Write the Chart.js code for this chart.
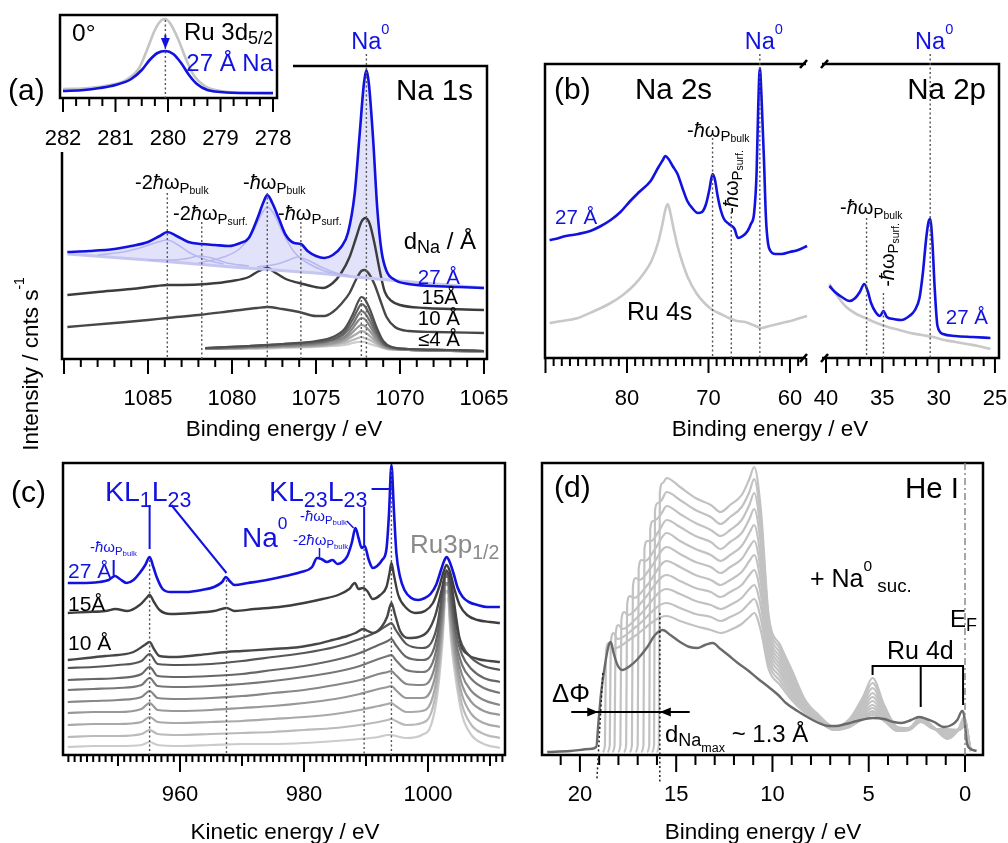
<!DOCTYPE html>
<html>
<head>
<meta charset="utf-8">
<script src="https://cdn.jsdelivr.net/npm/chart.js@4.4.0/dist/chart.umd.min.js"></script>
<style>
  body { margin: 0; background: #fff; }
  #fig { position: relative; width: 1008px; height: 843px; overflow: hidden; }
  #fig canvas { position: absolute; left: 0; top: 0; }
</style>
</head>
<body>
<div id="fig">
  <canvas id="cInset" width="1008" height="843"></canvas>
  <canvas id="cA" width="1008" height="843"></canvas>
  <canvas id="cBL" width="1008" height="843"></canvas>
  <canvas id="cBR" width="1008" height="843"></canvas>
  <canvas id="cC" width="1008" height="843"></canvas>
  <canvas id="cD" width="1008" height="843"></canvas>
</div>
<script>

// (a) inset: Ru 3d5/2
const ru3dTicks = [282, 281, 280, 279, 278];
const ru3dClean = [[282, 9], [281.5, 10], [281.1, 13], [280.8, 18], [280.55, 30], [280.4, 48], [280.25, 68], [280.12, 78], [280.05, 79], [279.95, 74], [279.8, 58], [279.65, 38], [279.5, 22], [279.3, 12], [279, 7], [278.5, 5], [278, 4]];
const ru3dNa27 = [[282, 7], [281.6, 8], [281.3, 10], [281, 13], [280.7, 19], [280.5, 28], [280.35, 38], [280.2, 45], [280.05, 47], [279.9, 44], [279.75, 35], [279.6, 23], [279.45, 14], [279.25, 8], [279, 6], [278.5, 5], [278, 5]];

// (a) Na 1s
const na1sTicks = [1085, 1080, 1075, 1070, 1065];
const na1s27 = [[1089.8, 107], [1088.5, 108], [1087, 110], [1086, 113], [1085, 117], [1084.3, 123], [1083.85, 127], [1083.3, 123], [1082.6, 117], [1081.8, 115], [1081, 114], [1080.2, 113], [1079.5, 116], [1079, 121], [1078.5, 140], [1078.1, 158], [1077.9, 164], [1077.6, 156], [1077.2, 140], [1076.8, 124], [1076.3, 116], [1075.9, 115], [1075.5, 108], [1075, 103], [1074.5, 101], [1074, 104], [1073.5, 112], [1073.1, 126], [1072.7, 165], [1072.4, 225], [1072.15, 275], [1072, 289], [1071.85, 275], [1071.6, 220], [1071.35, 150], [1071.1, 108], [1070.8, 88], [1070.3, 79], [1069.5, 75], [1068, 73], [1066.5, 72], [1065, 71]];
const na1sBackground = [[1089.8, 105], [1085, 99], [1080, 92], [1075, 86], [1072, 81], [1070, 78], [1065, 71]];
const na1sFitBulk2 = [[1088, 104], [1086.5, 107], [1085.3, 112], [1084.4, 117], [1083.85, 119], [1083.3, 115], [1082.5, 106], [1081.5, 99], [1080.5, 95]];
const na1sFitSurf2 = [[1085, 99], [1083.5, 99], [1082.5, 101], [1082, 103], [1081.2, 101], [1080.3, 96], [1079, 93]];
const na1sFitBulk1 = [[1082, 96], [1080.5, 102], [1079.5, 111], [1078.7, 129], [1078.2, 146], [1077.9, 152], [1077.5, 145], [1077, 127], [1076.3, 107], [1075.5, 96], [1074.5, 88], [1073.5, 84]];
const na1sFitSurf1 = [[1078.5, 92], [1077.3, 95], [1076.6, 99], [1076.1, 102], [1075.5, 99], [1074.7, 92], [1073.8, 86], [1073, 83]];
const na1s15 = [[1089.8, 64], [1088, 67], [1086, 70], [1084.5, 73], [1083.85, 74], [1083, 74], [1081.5, 75], [1080, 78], [1079, 82], [1078.4, 88], [1077.9, 91], [1077.4, 86], [1076.8, 80], [1076, 76], [1075.3, 73], [1074.6, 71], [1074, 76], [1073.5, 86], [1073, 102], [1072.6, 122], [1072.3, 137], [1072.05, 141], [1071.8, 135], [1071.5, 114], [1071.2, 88], [1070.9, 67], [1070.5, 58], [1070, 54], [1068.5, 51], [1067, 50], [1065, 49]];
const na1s10 = [[1089.8, 32], [1087, 36], [1085, 39], [1083.85, 41], [1082, 44], [1080, 48], [1078.5, 51], [1077.9, 52], [1077, 50], [1076, 47], [1075, 43], [1074.5, 43], [1074, 47], [1073.5, 55], [1073, 66], [1072.6, 80], [1072.3, 88], [1072.1, 89], [1071.8, 84], [1071.5, 74], [1071.2, 60], [1070.8, 42], [1070.3, 32], [1069.5, 28], [1068, 27], [1065, 26]];
const na1sLowE = [1081.6, 1079, 1077, 1075, 1074, 1073.3, 1072.8, 1072.5, 1072.3, 1072.1, 1071.8, 1071.4, 1071, 1070.5, 1069.5, 1067, 1065];
const na1sLow = [
  [11, 13, 15, 18, 22, 30, 45, 57, 62, 60, 50, 32, 18, 12, 10, 9, 8],
  [11, 13, 15, 17, 20, 27, 40, 50, 55, 53, 44, 28, 16, 12, 10, 9, 8],
  [11, 12, 14, 16, 19, 25, 35, 44, 48, 46, 38, 25, 15, 11, 10, 9, 8],
  [10, 12, 13, 15, 18, 22, 31, 38, 41, 40, 33, 22, 14, 11, 9, 8, 8],
  [10, 11, 13, 14, 16, 20, 27, 32, 34, 33, 28, 19, 13, 10, 9, 8, 7],
  [10, 11, 12, 13, 15, 18, 23, 26, 28, 27, 23, 17, 12, 10, 9, 8, 7],
  [10, 11, 12, 13, 14, 16, 19, 21, 22, 21, 19, 15, 11, 10, 9, 8, 7],
  [10, 10, 11, 12, 13, 14, 16, 17, 17, 17, 15, 13, 11, 9, 9, 8, 7]
];

// (b) Na 2s / Na 2p
const na2sTicks = [80, 70, 60];
const na2pTicks = [40, 35, 30, 25];
const na2s27 = [[89.5, 118], [88.8, 119], [87.5, 122], [86, 124], [84.5, 127], [83.2, 132], [82, 138], [80.8, 146], [79.6, 157], [78.5, 166], [77.1, 177], [76.2, 190], [75.6, 198], [75.3, 202], [74.9, 199], [74.4, 192], [73.8, 184], [73.2, 170], [72.6, 157], [72, 150], [71.3, 145], [70.8, 146], [70.3, 154], [69.9, 168], [69.5, 184], [69.2, 178], [68.9, 163], [68.5, 148], [68.1, 139], [67.5, 134], [66.8, 129], [66.4, 120], [65.8, 122], [65.2, 127], [64.8, 134], [64.4, 145], [64.1, 185], [63.9, 250], [63.7, 290], [63.5, 262], [63.2, 200], [62.95, 140], [62.7, 115], [62.4, 107], [61.8, 104], [61, 104], [60, 106], [59, 108], [57.9, 112]];
const ru4sClean = [[89.5, 35], [88, 37], [86, 40], [84, 47], [82, 55], [80.5, 63], [79, 74], [78, 84], [77, 97], [76.2, 115], [75.7, 132], [75.3, 148], [75, 154], [74.7, 146], [74.3, 130], [73.8, 112], [73.3, 98], [72.5, 80], [71.5, 65], [70.5, 55], [69.5, 48], [68.5, 44], [67.5, 40], [66.5, 37], [65.5, 36], [64.5, 33], [63.5, 30], [62.5, 32], [61, 35], [59.5, 38], [57.9, 42]];
const na2p27 = [[39.7, 72], [39.2, 66], [38.6, 61], [37.9, 57], [37.4, 60], [37, 66], [36.6, 74], [36.3, 67], [36, 55], [35.6, 46], [35.2, 42], [34.9, 47], [34.6, 41], [34, 39], [33.3, 38], [32.6, 42], [32.1, 48], [31.7, 60], [31.4, 85], [31.1, 120], [30.9, 136], [30.75, 139], [30.55, 115], [30.35, 70], [30.1, 32], [29.6, 24], [28.5, 22], [27, 21], [25.4, 20]];
const na2pClean = [[39.7, 74], [39, 62], [38.2, 51], [37.3, 44], [36.5, 40], [35.5, 35], [34.5, 31], [33.5, 28], [32.5, 25], [31.5, 23], [30.5, 21], [29.5, 18], [28.5, 16], [27.5, 14], [26.5, 12], [25.4, 9]];

// (c) Auger KLL
const kllTicks = [960, 980, 1000];
const kll27 = [[941.9, 172], [944, 172], [947, 173], [948.5, 175], [949.5, 179], [950.3, 176], [951.4, 172], [952.5, 175], [953.5, 182], [954.4, 190], [955.1, 198], [955.7, 188], [956.3, 177], [957.2, 166], [958.5, 163], [961, 163], [963.5, 165], [965.5, 168], [966.8, 173], [967.4, 178], [968, 174], [968.8, 170], [971, 172], [974, 175], [977, 179], [979.5, 183], [981.3, 188], [982.1, 197], [982.8, 196], [983.7, 193], [984.6, 195], [985.4, 191], [986.2, 193], [987, 199], [987.7, 212], [988.3, 227], [988.8, 217], [989.3, 207], [989.8, 209], [990.4, 196], [991.1, 187], [991.8, 189], [992.6, 195], [993.3, 206], [993.7, 240], [994.1, 290], [994.5, 245], [994.9, 202], [995.5, 178], [996.2, 165], [997.3, 157], [998.4, 155], [999.5, 157], [1000.4, 161], [1001.3, 170], [1002.1, 185], [1002.6, 194], [1003, 198], [1003.5, 193], [1004.1, 182], [1004.8, 167], [1005.6, 158], [1006.6, 153], [1008, 150], [1009.5, 148], [1011.6, 148]];
const kll15 = [[941.9, 142], [945, 143], [948, 144], [949.6, 146], [951.5, 144], [953.5, 150], [954.6, 157], [955.1, 160], [955.8, 153], [956.7, 145], [958.5, 141], [962, 142], [965.5, 144], [967.5, 147], [968.8, 144], [972, 146], [976, 148], [980, 152], [983, 156], [985.5, 160], [987.3, 166], [988.2, 172], [988.8, 166], [989.5, 167], [990.2, 164], [991.1, 156], [992.3, 160], [993.3, 168], [993.8, 182], [994.1, 192], [994.5, 180], [995.2, 160], [996.5, 147], [998, 142], [999.5, 144], [1000.8, 152], [1001.8, 168], [1002.5, 183], [1003, 190], [1003.5, 184], [1004.3, 165], [1005.1, 150], [1006.3, 140], [1008, 135], [1010, 133], [1011.6, 132]];
const kll10 = [[941.9, 95], [945, 97], [948, 99], [950, 100], [952.5, 103], [954.3, 110], [955.1, 113], [955.8, 106], [956.7, 99], [959, 98], [963, 100], [967.5, 103], [970, 104], [975, 106], [979.3, 108], [982, 111], [984.6, 115], [987, 119], [988.3, 122], [989.6, 126], [990.3, 124], [991.1, 122], [992.5, 128], [993.4, 138], [994.1, 152], [994.7, 140], [995.5, 124], [996.8, 117], [998.5, 118], [1000, 124], [1001.2, 140], [1002.2, 165], [1003, 184], [1003.8, 170], [1004.6, 135], [1005.3, 110], [1006.3, 101], [1008, 96], [1010, 94], [1011.6, 93]];
const kllLowE = [941.9, 946, 950, 953.8, 955.1, 956.4, 960, 965, 970, 975, 980, 985, 989, 992, 993.5, 994.1, 994.8, 996.5, 999, 1000.5, 1001.5, 1002.3, 1003, 1003.7, 1004.5, 1005.5, 1007, 1009, 1011.6];
const kllLow = [
  [87, 88, 90, 94, 101, 91, 90, 91, 94, 98, 102, 108, 116, 124, 130, 132, 125, 111, 107, 112, 130, 162, 185, 164, 130, 110, 97, 89, 85],
  [75, 76, 77, 81, 88, 79, 78, 79, 81, 85, 89, 95, 102, 110, 114, 116, 110, 98, 95, 100, 120, 155, 183, 157, 122, 100, 86, 77, 73],
  [65, 66, 67, 70, 77, 69, 68, 69, 71, 74, 78, 83, 89, 96, 99, 100, 95, 85, 83, 89, 110, 147, 181, 150, 114, 90, 76, 67, 62],
  [53, 54, 55, 58, 64, 57, 56, 57, 59, 62, 65, 70, 75, 81, 83, 84, 80, 71, 70, 77, 100, 140, 179, 143, 106, 80, 64, 55, 50],
  [42, 43, 43, 46, 52, 45, 44, 45, 47, 49, 52, 56, 61, 66, 68, 69, 65, 57, 57, 65, 90, 133, 177, 136, 98, 70, 53, 44, 40],
  [30, 31, 31, 33, 38, 33, 32, 33, 34, 36, 38, 41, 45, 49, 51, 52, 49, 43, 44, 53, 80, 125, 175, 128, 90, 60, 41, 32, 28],
  [18, 19, 19, 21, 25, 21, 20, 21, 22, 23, 25, 27, 30, 33, 35, 36, 34, 30, 32, 42, 70, 118, 173, 122, 83, 50, 30, 21, 17],
  [8, 9, 9, 10, 13, 10, 9, 10, 11, 11, 12, 14, 16, 18, 20, 20, 19, 17, 20, 30, 60, 110, 171, 115, 75, 40, 20, 11, 7]
];

// (d) He I valence band
const heITicks = [20, 15, 10, 5, 0];
const heIMax = [[21.7, 3], [20.5, 4], [19.5, 6], [19.15, 8], [19.05, 30], [18.9, 62], [18.7, 90], [18.5, 110], [18.4, 113], [18.25, 102], [18.05, 90], [17.8, 85], [17.4, 89], [17, 96], [16.5, 108], [16.1, 120], [15.7, 125], [15.3, 120], [14.8, 113], [14.3, 108], [13.9, 107], [13.5, 110], [13.1, 112], [12.7, 106], [12.3, 100], [11.8, 92], [11.3, 85], [10.8, 77], [10.2, 68], [9.7, 60], [9.3, 52], [8.7, 44], [8.1, 37], [7.6, 32], [7.1, 29], [6.7, 29], [6.2, 31], [5.6, 34], [4.8, 37], [4.2, 36], [3.7, 33], [3.3, 32], [2.8, 35], [2.4, 38], [2, 36], [1.6, 33], [1.1, 28], [0.7, 30], [0.4, 35], [0.15, 44], [0.05, 40], [-0.1, 12], [-0.3, 6], [-0.6, 4]];
const heIOnsets = [
  [[16.02, 3], [15.9, 10], [15.85, 262], [15.7, 272]],
  [[16.27, 3], [16.15, 10], [16.1, 245], [15.95, 252], [15.75, 255]],
  [[16.52, 3], [16.4, 10], [16.35, 226], [16.2, 234], [16, 236], [15.75, 242]],
  [[16.82, 3], [16.7, 10], [16.65, 206], [16.5, 214], [16.3, 214], [15.9, 224]],
  [[17.12, 3], [17, 10], [16.95, 186], [16.8, 195], [16.6, 194], [16.1, 206]],
  [[17.42, 3], [17.3, 10], [17.25, 168], [17.1, 177], [16.9, 175], [16.3, 188]],
  [[17.72, 3], [17.6, 10], [17.55, 150], [17.4, 159], [17.2, 157], [16.5, 170]],
  [[18.02, 3], [17.9, 10], [17.85, 134], [17.7, 143], [17.5, 140], [16.7, 155]],
  [[18.32, 3], [18.2, 10], [18.15, 120], [18, 130], [17.8, 126], [16.9, 140]],
  [[18.57, 3], [18.45, 10], [18.4, 112], [18.25, 122], [18.05, 116], [17.1, 128]],
  [[18.82, 3], [18.7, 10], [18.65, 102], [18.5, 112], [18.3, 106], [17.3, 117]]
];
const heIGridE = [15.5, 14.8, 14, 13.2, 12.7, 12.2, 11.6, 11.2, 10.95, 10.6, 10.2, 9.6, 9, 8.3, 7.6, 6.8, 6, 5.3, 4.8, 4.2, 3.5, 2.9, 2.3, 1.6, 0.9, 0.3, 0.05, -0.3];
const heISecondary = [
  [277, 268, 257, 250, 243, 250, 260, 276, 288, 245, 140, 110, 85, 55],
  [263, 255, 245, 238, 231, 238, 248, 263, 276, 234, 136, 106, 82, 54],
  [249, 241, 232, 225, 219, 225, 235, 250, 262, 222, 130, 102, 79, 53],
  [235, 228, 219, 213, 206, 213, 222, 236, 246, 210, 125, 98, 76, 52],
  [222, 214, 206, 200, 194, 200, 209, 222, 230, 196, 120, 94, 73, 50],
  [208, 201, 193, 188, 182, 188, 196, 208, 214, 184, 115, 90, 70, 49],
  [194, 188, 180, 175, 170, 175, 183, 194, 200, 172, 110, 86, 67, 48],
  [180, 174, 167, 163, 158, 163, 170, 180, 185, 160, 104, 82, 64, 46],
  [166, 161, 154, 150, 146, 150, 157, 166, 170, 148, 98, 78, 61, 45],
  [152, 147, 141, 138, 134, 138, 144, 152, 156, 136, 92, 74, 58, 44],
  [139, 134, 129, 125, 122, 125, 131, 138, 142, 124, 86, 70, 55, 42]
];
const heIValence = [
  [40, 28, 36, 58, 77, 50, 28, 27, 38, 27, 16, 27, 38, 4],
  [39, 28, 35, 55, 72, 48, 27, 27, 37, 27, 17, 27, 37, 4],
  [38, 27, 34, 52, 67, 46, 27, 27, 37, 27, 18, 27, 36, 4],
  [38, 27, 33, 49, 62, 44, 26, 27, 36, 27, 19, 26, 35, 4],
  [37, 27, 32, 46, 58, 42, 26, 27, 36, 27, 20, 26, 34, 4],
  [36, 26, 31, 44, 54, 40, 25, 26, 35, 26, 21, 26, 33, 4],
  [36, 26, 30, 42, 50, 38, 25, 26, 35, 26, 22, 26, 32, 4],
  [35, 26, 30, 40, 47, 37, 25, 26, 34, 26, 23, 25, 31, 4],
  [35, 26, 29, 38, 44, 36, 24, 26, 34, 26, 24, 25, 30, 4],
  [34, 25, 28, 37, 42, 35, 24, 25, 33, 26, 25, 25, 29, 4],
  [34, 25, 28, 36, 40, 34, 24, 25, 33, 26, 26, 25, 28, 4]
];

const FONT = '"Liberation Sans", Arial, Helvetica, sans-serif';
const BLUE = '#1212e0';
const W = 1008, H = 843;
const TICK_FONT = 22;
const TITLE_FONT = 22.5;
const PANEL_FONT = 30;

const lblBulk1 = [['-', 0], ['\u0127', 0, 1], ['\u03c9', 0], ['P', 1], ['bulk', 2]];
const lblBulk2 = [['-2', 0], ['\u0127', 0, 1], ['\u03c9', 0], ['P', 1], ['bulk', 2]];
const lblSurf1 = [['-', 0], ['\u0127', 0, 1], ['\u03c9', 0], ['P', 1], ['surf.', 2]];
const lblSurf2 = [['-2', 0], ['\u0127', 0, 1], ['\u03c9', 0], ['P', 1], ['surf.', 2]];
const naZero = [['Na', 0], ['0', -1]];

// text with sub/superscripts: parts = [text, level(0,1,2,-1), italic, dy]
function label(ctx, parts, x, y, size, color, align, rot) {
  if (typeof parts === 'string') parts = [[parts, 0]];
  const sc = { 0: 1, 1: 0.75, 2: 0.52, '-1': 0.62 };
  const off = { 0: 0, 1: 0.2, 2: 0.22, '-1': -0.64 };
  ctx.save();
  ctx.translate(x, y);
  if (rot) ctx.rotate(rot);
  ctx.fillStyle = color || '#000';
  ctx.textBaseline = 'alphabetic';
  const items = parts.map(p => {
    const lv = p[1] || 0;
    const font = (p[2] ? 'italic ' : '') + (size * sc[lv]).toFixed(1) + 'px ' + FONT;
    ctx.font = font;
    return { t: p[0], font, dy: (p[3] !== undefined ? p[3] : off[lv]) * size, w: ctx.measureText(p[0]).width };
  });
  const total = items.reduce((s, it) => s + it.w, 0);
  let cx = align === 'center' ? -total / 2 : align === 'right' ? -total : 0;
  items.forEach(it => {
    ctx.font = it.font;
    ctx.fillText(it.t, cx, 0.36 * size + it.dy);
    cx += it.w;
  });
  ctx.restore();
}

function stroke(ctx, pts, w, color, dash) {
  ctx.save();
  ctx.lineWidth = w;
  ctx.strokeStyle = color;
  ctx.setLineDash(dash || []);
  ctx.beginPath();
  pts.forEach((p, i) => i ? ctx.lineTo(p[0], p[1]) : ctx.moveTo(p[0], p[1]));
  ctx.stroke();
  ctx.restore();
}

const dotted = (ctx, x, y1, y2, color) => stroke(ctx, [[x, y1], [x, y2]], 1.4, color || '#555', [2, 2.5]);

function arrowHead(ctx, x, y, dir, color) {
  const L = 11, h = 4.5;
  ctx.save();
  ctx.fillStyle = color;
  ctx.beginPath();
  if (dir === 'down') { ctx.moveTo(x, y); ctx.lineTo(x - h, y - L); ctx.lineTo(x + h, y - L); }
  if (dir === 'right') { ctx.moveTo(x, y); ctx.lineTo(x - L, y - h); ctx.lineTo(x - L, y + h); }
  if (dir === 'left') { ctx.moveTo(x, y); ctx.lineTo(x + L, y - h); ctx.lineTo(x + L, y + h); }
  ctx.closePath();
  ctx.fill();
  ctx.restore();
}

const isMult = (v, m) => Math.abs(v / m - Math.round(v / m)) < 1e-6;

function xTicks(ctx, X, y, lo, hi, step, len) {
  ctx.save();
  ctx.lineWidth = 2;
  ctx.strokeStyle = '#000';
  ctx.beginPath();
  for (let v = lo; v <= hi + 1e-9; v += step) {
    const px = X(v);
    ctx.moveTo(px, y);
    ctx.lineTo(px, y + len(v));
  }
  ctx.stroke();
  ctx.restore();
}

function box(ctx, ca) {
  stroke(ctx, [[ca.left, ca.top], [ca.right, ca.top], [ca.right, ca.bottom], [ca.left, ca.bottom], [ca.left, ca.top - 1.2]], 2.5, '#000');
}

const ds = (data, color, width, extra) => Object.assign({ data, borderColor: color, borderWidth: width || 2.2 }, extra || {});

function makePanel(id, area, xFrom, xTo, datasets, decor) {
  return new Chart(document.getElementById(id), {
    type: 'line',
    data: { datasets },
    options: {
      responsive: false,
      animation: false,
      devicePixelRatio: 1,
      events: [],
      layout: { padding: { left: area[0], top: area[1], right: W - area[2], bottom: H - area[3] } },
      scales: {
        x: { type: 'linear', display: false, min: Math.min(xFrom, xTo), max: Math.max(xFrom, xTo), reverse: xFrom > xTo },
        y: { type: 'linear', display: false, min: 0, max: area[3] - area[1] }
      },
      elements: {
        point: { radius: 0 },
        line: { borderWidth: 2.2, cubicInterpolationMode: 'monotone', fill: false, borderJoinStyle: 'round' }
      },
      plugins: {
        legend: { display: false },
        tooltip: { enabled: false },
        filler: { drawTime: 'beforeDatasetsDraw' }
      }
    },
    plugins: [{
      id: 'decor',
      afterDraw(c) {
        decor(c.ctx, v => c.scales.x.getPixelForValue(v), v => c.scales.y.getPixelForValue(v), c.chartArea);
      }
    }]
  });
}

// ---- (a) inset ----
makePanel('cInset', [60, 15, 277, 98], 282.057, 277.924, [
  ds(ru3dNa27, BLUE, 2.6),
  ds(ru3dClean, '#c4c4c4', 2.6)
], (ctx, X, Y, ca) => {
  box(ctx, ca);
  xTicks(ctx, X, ca.bottom, 278, 282, 0.25, v => isMult(v, 1) ? 14 : 8);
  ru3dTicks.forEach(v => label(ctx, String(v), X(v), 137, TICK_FONT, '#000', 'center'));
  dotted(ctx, X(280.05), Y(78), ca.bottom);
  stroke(ctx, [[X(280.05), 35], [X(280.05), 42]], 2, BLUE);
  arrowHead(ctx, X(280.05), 49, 'down', BLUE);
  label(ctx, '0\u00b0', 72, 32, 24.5);
  label(ctx, [['Ru 3d', 0], ['5/2', 1]], 273, 31, 24, '#000', 'right');
  label(ctx, '27 \u00c5 Na', 273, 62, 24, BLUE, 'right');
});

// ---- (a) Na 1s ----
const lowGrays = ['#4f4f4f', '#616161', '#737373', '#858585', '#979797', '#a9a9a9', '#bbbbbb', '#cdcdcd'];
const fitColor = '#b8b8f0';
makePanel('cA', [62, 66, 487, 359], 1090.12, 1064.82, [
  ds(na1s27, BLUE, 2.6, { fill: 5, backgroundColor: 'rgba(110,110,230,0.2)' }),
  ds(na1sFitBulk2, fitColor, 1.6),
  ds(na1sFitSurf2, fitColor, 1.6),
  ds(na1sFitBulk1, fitColor, 1.6),
  ds(na1sFitSurf1, fitColor, 1.6),
  ds(na1sBackground, '#c6c6f2', 3, { cubicInterpolationMode: 'default', tension: 0.2 }),
  ds(na1s15, '#3c3c3c', 2.4),
  ds(na1s10, '#474747', 2.4)
].concat(na1sLow.map((row, i) => ds(na1sLowE.map((e, j) => [e, row[j]]), lowGrays[i], 2.2))),
(ctx, X, Y, ca) => {
  stroke(ctx, [[293, ca.top], [ca.right, ca.top], [ca.right, ca.bottom], [ca.left, ca.bottom], [ca.left, 152]], 2.5, '#000');
  xTicks(ctx, X, ca.bottom, 1065, 1090, 1, v => isMult(v, 5) ? 15 : 8);
  na1sTicks.forEach(v => label(ctx, String(v), X(v), 397, TICK_FONT, '#000', 'center'));
  label(ctx, 'Binding energy / eV', 284, 428, TITLE_FONT, '#000', 'center');
  label(ctx, [['Intensity / cnts s', 0], ['-1', -1]], 30, 364, TITLE_FONT, '#000', 'center', -Math.PI / 2);
  [[1083.85, 193], [1077.9, 193], [1081.8, 222], [1075.9, 222], [1072.0, 54], [1072.3, 300]].forEach(m => dotted(ctx, X(m[0]), m[1], ca.bottom));
  label(ctx, lblBulk2, 135, 182, 20);
  label(ctx, lblBulk1, 243, 182, 20);
  label(ctx, lblSurf2, 173, 213, 20);
  label(ctx, lblSurf1, 278, 213, 20);
  label(ctx, '(a)', 8, 89, PANEL_FONT);
  label(ctx, 'Na 1s', 473, 89, 29.5, '#000', 'right');
  label(ctx, naZero, X(1072) + 4, 41, 23.5, BLUE, 'center');
  label(ctx, [['d', 0], ['Na', 1], [' / \u00c5', 0]], 476, 240, 24, '#000', 'right');
  label(ctx, '27 \u00c5', 460, 277, 20.5, BLUE, 'right');
  label(ctx, '15\u00c5', 458, 297, 20.5, '#000', 'right');
  label(ctx, '10 \u00c5', 460, 318, 20.5, '#000', 'right');
  label(ctx, '\u22644 \u00c5', 460, 339, 20.5, '#000', 'right');
});

// ---- (b) Na 2s (left part of broken axis) ----
makePanel('cBL', [545, 64, 808, 358], 90.06, 57.79, [
  ds(na2s27, BLUE, 2.6),
  ds(ru4sClean, '#c8c8c8', 2.6)
], (ctx, X, Y, ca) => {
  stroke(ctx, [[806, ca.top], [ca.left, ca.top], [ca.left, ca.bottom], [806, ca.bottom]], 2.5, '#000');
  stroke(ctx, [[800, ca.top + 4], [807, ca.top - 4]], 2.5, '#000');
  stroke(ctx, [[800, ca.bottom + 4], [807, ca.bottom - 4]], 2.5, '#000');
  xTicks(ctx, X, ca.bottom, 58, 90, 1, v => isMult(v, 10) ? 15 : 8);
  na2sTicks.forEach(v => label(ctx, String(v), X(v), 397, TICK_FONT, '#000', 'center'));
  label(ctx, 'Binding energy / eV', 770, 428, TITLE_FONT, '#000', 'center');
  dotted(ctx, X(69.5), 138, ca.bottom);
  dotted(ctx, X(67.2), 212, ca.bottom);
  dotted(ctx, X(63.7), 54, ca.bottom);
  label(ctx, '(b)', 554, 88, PANEL_FONT);
  label(ctx, 'Na 2s', 635, 88, 29.5);
  label(ctx, naZero, X(63.7) + 4, 41, 23.5, BLUE, 'center');
  label(ctx, lblBulk1, 687, 130, 20);
  label(ctx, lblSurf1, 731, 182, 20, '#000', 'center', -Math.PI / 2);
  label(ctx, '27 \u00c5', 555, 217, 20.5, BLUE);
  label(ctx, 'Ru 4s', 627, 311, 25);
});

// ---- (b) Na 2p (right part of broken axis) ----
makePanel('cBR', [826, 64, 999, 358], 40.0, 24.64, [
  ds(na2p27, BLUE, 2.6),
  ds(na2pClean, '#c8c8c8', 2.6)
], (ctx, X, Y, ca) => {
  stroke(ctx, [[822, ca.top], [ca.right, ca.top], [ca.right, ca.bottom], [822, ca.bottom]], 2.5, '#000');
  stroke(ctx, [[821, ca.top + 4], [828, ca.top - 4]], 2.5, '#000');
  stroke(ctx, [[821, ca.bottom + 4], [828, ca.bottom - 4]], 2.5, '#000');
  xTicks(ctx, X, ca.bottom, 25, 40, 1, v => isMult(v, 5) ? 15 : 8);
  na2pTicks.forEach(v => label(ctx, String(v), X(v), 397, TICK_FONT, '#000', 'center'));
  dotted(ctx, X(36.4), 218, ca.bottom);
  dotted(ctx, X(34.9), 293, ca.bottom);
  dotted(ctx, X(30.75), 54, ca.bottom);
  label(ctx, 'Na 2p', 986, 88, 29.5, '#000', 'right');
  label(ctx, naZero, X(30.75) + 4, 41, 23.5, BLUE, 'center');
  label(ctx, lblBulk1, 840, 207, 20);
  label(ctx, lblSurf1, 887, 255, 20, '#000', 'center', -Math.PI / 2);
  label(ctx, '27 \u00c5', 988, 317, 20.5, BLUE, 'right');
});

// ---- (c) Na KLL Auger ----
const kllGrays = ['#575757', '#676767', '#777777', '#878787', '#989898', '#a9a9a9', '#bababa', '#cbcbcb'];
makePanel('cC', [63, 463, 505, 755], 941.13, 1012.42, [
  ds(kll27, BLUE, 2.6),
  ds(kll15, '#3e3e3e', 2.4),
  ds(kll10, '#474747', 2.4)
].concat(kllLow.map((row, i) => ds(kllLowE.map((e, j) => [e, row[j]]), kllGrays[i], 2.2))),
(ctx, X, Y, ca) => {
  box(ctx, ca);
  xTicks(ctx, X, ca.bottom, 942, 1012, 1, v => isMult(v, 20) ? 17 : isMult(v, 10) ? 11 : 7);
  kllTicks.forEach(v => label(ctx, String(v), X(v), 793, TICK_FONT, '#000', 'center'));
  label(ctx, 'Kinetic energy / eV', 285, 831, TITLE_FONT, '#000', 'center');
  dotted(ctx, X(955.1), 560, ca.bottom);
  dotted(ctx, X(967.5), 580, ca.bottom);
  dotted(ctx, X(989.7), 549, ca.bottom);
  dotted(ctx, X(994.1), 470, ca.bottom);
  stroke(ctx, [[X(1003), 578], [X(1003), ca.bottom - 2]], 1.5, '#ffffff', [4, 4]);
  label(ctx, '(c)', 11, 491, PANEL_FONT);
  label(ctx, [['KL', 0], ['1', 1], ['L', 0], ['23', 1]], 105, 491, 28.5, BLUE);
  stroke(ctx, [[X(955.1), 505], [X(955.1), 549]], 2, BLUE);
  stroke(ctx, [[X(958.6), 505], [X(967.5), 573]], 2, BLUE);
  label(ctx, naZero, 242, 537, 28, BLUE);
  label(ctx, [['KL', 0], ['23', 1], ['L', 0], ['23', 1]], 269, 491, 28.5, BLUE);
  stroke(ctx, [[X(990.9), 489], [X(994.1), 489]], 2, BLUE);
  stroke(ctx, [[X(989.7), 507], [X(989.7), 545]], 2, BLUE);
  label(ctx, lblBulk1, 300, 516, 15, BLUE);
  stroke(ctx, [[X(986.9), 521], [X(988.0), 528]], 1.5, BLUE);
  label(ctx, lblBulk2, 293, 540, 15, BLUE);
  stroke(ctx, [[X(982.5), 548], [X(982.5), 557]], 1.5, BLUE);
  label(ctx, lblBulk1, 90, 547, 15, BLUE);
  stroke(ctx, [[X(949.3), 560], [X(949.3), 575]], 2, BLUE);
  label(ctx, '27 \u00c5', 68, 570, 21, BLUE);
  label(ctx, '15\u00c5', 68, 603, 21);
  label(ctx, '10 \u00c5', 68, 642, 21);
  label(ctx, [['Ru3p', 0], ['1/2', 1]], 410, 544, 26, '#8a8a8a');
});

// ---- (d) He I UPS ----
makePanel('cD', [542, 463, 983, 755], 21.97, -0.935, [
  ds(heIMax, '#6a6a6a', 2.4)
].concat(heIOnsets.map((on, i) => {
  const ys = heISecondary[i].concat(heIValence[i]);
  return ds(on.concat(heIGridE.map((e, j) => [e, ys[j]])), '#c2c2c2', 2.2);
})),
(ctx, X, Y, ca) => {
  box(ctx, ca);
  xTicks(ctx, X, ca.bottom, 0, 21, 1, v => isMult(v, 5) ? 17 : 10);
  heITicks.forEach(v => label(ctx, String(v), X(v), 793, TICK_FONT, '#000', 'center'));
  label(ctx, 'Binding energy / eV', 763, 831, TITLE_FONT, '#000', 'center');
  stroke(ctx, [[X(0), ca.top], [X(0), ca.bottom]], 1.5, '#8a8a8a', [7, 3, 2, 3]);
  stroke(ctx, [[X(15.85), 613], [X(15.85), 782]], 1.5, '#222', [2, 2.5]);
  stroke(ctx, [[X(18.81), 673], [X(19.12), 780]], 1.5, '#222', [2, 2.5]);
  stroke(ctx, [[X(20.45), 712], [X(14.3), 712]], 2, '#000');
  arrowHead(ctx, X(19.05), 712, 'right', '#000');
  arrowHead(ctx, X(15.85), 712, 'left', '#000');
  stroke(ctx, [[X(4.8), 675], [X(4.8), 666], [X(0.1), 666], [X(0.1), 705]], 2, '#000');
  stroke(ctx, [[X(2.3), 666], [X(2.3), 707]], 2, '#000');
  label(ctx, '(d)', 554, 486, PANEL_FONT);
  label(ctx, 'He I', 959, 487, 29.5, '#000', 'right');
  label(ctx, [['+ Na', 0], ['0', -1], [' suc.', 1]], 810, 578, 25);
  label(ctx, [['E', 0], ['F', 1]], 950, 618, 24);
  label(ctx, 'Ru 4d', 887, 650, 25);
  label(ctx, '\u0394\u03a6', 552, 693, 26);
  label(ctx, [['d', 0], ['Na', 1], ['max', 2, 0, 0.45], [' ~ 1.3 \u00c5', 0]], 665, 733, 24);
});
</script>
</body>
</html>
